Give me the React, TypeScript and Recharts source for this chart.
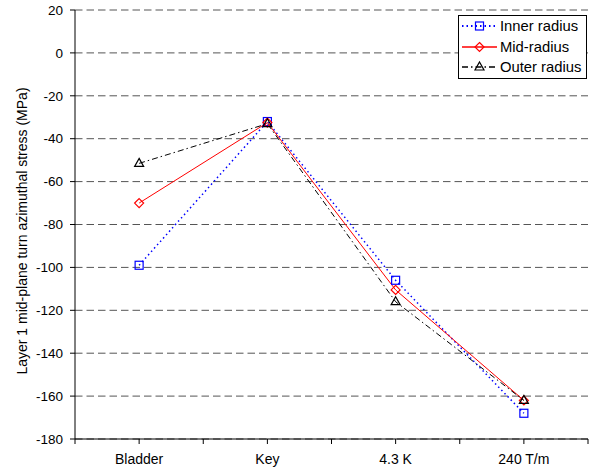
import { LineChart, Line, XAxis, YAxis, CartesianGrid, Legend } from "recharts";

const CATEGORIES = ["Bladder", "Key", "4.3 K", "240 T/m"];
const INNER_RADIUS = [-99, -32, -106, -168];
const MID_RADIUS = [-70, -32.5, -110.5, -162];
const OUTER_RADIUS = [-51.5, -33, -116, -162];
const Y_TICKS = [20, 0, -20, -40, -60, -80, -100, -120, -140, -160, -180];

const FONT = '"Liberation Sans", Arial, sans-serif';

// category centres sit at i + 0.5 so ticks can fall on centres and boundaries
const data = CATEGORIES.map((name, i) => ({
  pos: i + 0.5,
  name,
  inner: INNER_RADIUS[i],
  mid: MID_RADIUS[i],
  outer: OUTER_RADIUS[i],
}));
const X_TICKS = Array.from({ length: CATEGORIES.length * 2 + 1 }, (_, i) => i / 2);

type Marker = "square" | "diamond" | "triangle";

const SERIES: { key: string; name: string; color: string; dash?: string; width: number; marker: Marker }[] = [
  { key: "inner", name: "Inner radius", color: "#0000ff", dash: "1.5 3", width: 1.5, marker: "square" },
  { key: "mid", name: "Mid-radius", color: "#ff0000", width: 1, marker: "diamond" },
  { key: "outer", name: "Outer radius", color: "#000000", dash: "6 3 1.5 3", width: 1, marker: "triangle" },
];

function markerShape(marker: Marker, cx: number, cy: number, color: string, key?: string | number) {
  if (marker === "square") {
    return <rect key={key} x={cx - 4} y={cy - 4} width={8} height={8} fill="none" stroke={color} strokeWidth={1.2} />;
  }
  if (marker === "diamond") {
    return (
      <polygon
        key={key}
        points={`${cx},${cy - 4.5} ${cx + 4.5},${cy} ${cx},${cy + 4.5} ${cx - 4.5},${cy}`}
        fill="none"
        stroke={color}
        strokeWidth={1.2}
      />
    );
  }
  return (
    <polygon
      key={key}
      points={`${cx},${cy - 5} ${cx + 4.5},${cy + 3} ${cx - 4.5},${cy + 3}`}
      fill="none"
      stroke={color}
      strokeWidth={1.2}
    />
  );
}

function ChartLegend() {
  return (
    <div
      style={{
        border: "1px solid #000",
        background: "#fff",
        width: 129,
        boxSizing: "border-box",
        padding: "0 3px",
        fontFamily: FONT,
        fontSize: 14.8,
        color: "#000",
      }}
    >
      {SERIES.map((s) => (
        <div key={s.key} style={{ display: "flex", alignItems: "center", height: 20.5 }}>
          <svg width={35} height={20} style={{ display: "block" }}>
            <line x1={0} y1={10} x2={35} y2={10} stroke={s.color} strokeWidth={s.width + 0.5} strokeDasharray={s.dash} />
            {markerShape(s.marker, 17.5, 10, s.color)}
          </svg>
          <span style={{ marginLeft: 3, whiteSpace: "nowrap" }}>{s.name}</span>
        </div>
      ))}
    </div>
  );
}

export default function App() {
  return (
    <div style={{ position: "absolute", top: 0, left: 0, background: "#fff", fontFamily: FONT }}>
      <LineChart width={595} height={468} data={data} margin={{ top: 10, right: 7, bottom: 0, left: 0 }}>
        <CartesianGrid vertical={false} stroke="#555" strokeDasharray="7.5 4" />
        <XAxis
          type="number"
          dataKey="pos"
          domain={[0, CATEGORIES.length]}
          ticks={X_TICKS}
          interval={0}
          height={29}
          tickSize={5}
          tickMargin={10}
          axisLine={{ stroke: "#000" }}
          tickLine={{ stroke: "#000" }}
          tick={{ fill: "#000", fontSize: 14 }}
          tickFormatter={(v: number) => (v % 1 === 0.5 ? CATEGORIES[Math.floor(v)] : "")}
        />
        <YAxis
          domain={[-180, 20]}
          ticks={Y_TICKS}
          interval={0}
          width={75}
          tickSize={5}
          tickMargin={7}
          axisLine={{ stroke: "#000" }}
          tickLine={{ stroke: "#000" }}
          tick={{ fill: "#000", fontSize: 13.5 }}
          label={() => (
            <text x={27} y={231} transform="rotate(-90 27 231)" textAnchor="middle" fill="#000" fontSize={14}>
              Layer 1 mid-plane turn azimuthal stress (MPa)
            </text>
          )}
        />
        <Legend
          layout="horizontal"
          align="center"
          verticalAlign="middle"
          content={() => <ChartLegend />}
          wrapperStyle={{ left: 458, top: 15, width: 129 }}
        />
        {SERIES.map((s) => (
          <Line
            key={s.key}
            type="linear"
            dataKey={s.key}
            name={s.name}
            stroke={s.color}
            strokeWidth={s.width}
            strokeDasharray={s.dash}
            isAnimationActive={false}
            activeDot={false}
            dot={(p: any) => markerShape(s.marker, p.cx, p.cy, s.color, `${s.key}-${p.index}`)}
          />
        ))}
      </LineChart>
    </div>
  );
}
